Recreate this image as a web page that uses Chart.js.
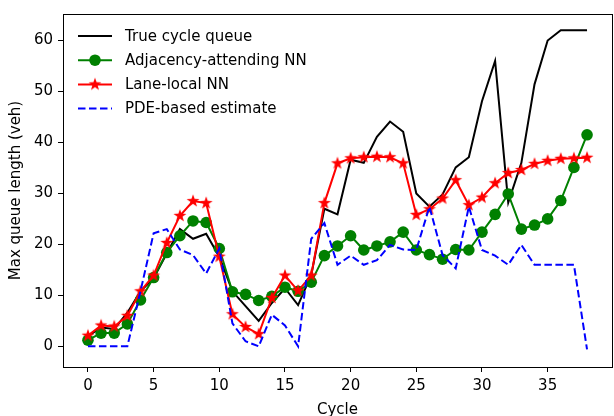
<!DOCTYPE html>
<html>
<head>
<meta charset="utf-8">
<script src="https://cdn.jsdelivr.net/npm/chart.js@4.4.0/dist/chart.umd.min.js"></script>
<style>
  html, body { margin: 0; padding: 0; background: #fff; overflow: hidden; }
  #wrap { width: 620px; height: 416px; }
</style>
</head>
<body>
<div id="wrap"><canvas id="queueChart" width="620" height="416"></canvas></div>
<script>
const cycles = [0, 1, 2, 3, 4, 5, 6, 7, 8, 9, 10, 11, 12, 13, 14, 15, 16, 17, 18, 19,
    20, 21, 22, 23, 24, 25, 26, 27, 28, 29, 30, 31, 32, 33, 34, 35, 36, 37, 38];

const trueQueue = [2, 3.7, 3.4, 6.6, 10.8, 13.4, 18.2, 23, 21.1, 22.1,
    17.6, 10.8, 7.9, 5.0, 8.5, 11.4, 8.1, 14.0, 27.0, 25.9,
    36.6, 36.0, 41.1, 44.1, 42.1, 30.0, 27.4, 29.8, 35.1, 37.1,
    48.1, 56.0, 28.2, 36.0, 51.4, 60.0, 62, 62, 62];

const adjacencyNN = [1.2, 2.6, 2.6, 4.4, 9.1, 13.5, 18.4, 21.7, 24.6, 24.3,
    19.2, 10.7, 10.2, 9.0, 9.8, 11.6, 10.8, 12.6, 17.8, 19.7,
    21.7, 18.9, 19.7, 20.5, 22.4, 18.9, 18.0, 17.1, 19.0, 18.9,
    22.4, 25.9, 29.9, 23.0, 23.8, 25.0, 28.6, 35.1, 41.5];

const laneLocalNN = [2.1, 4.1, 3.9, 6.0, 10.8, 13.9, 20.3, 25.6, 28.5, 28.1,
    17.6, 6.3, 3.8, 2.4, 9.5, 13.9, 10.9, 13.9, 28.1, 35.9,
    36.9, 37.1, 37.2, 37.1, 35.9, 25.8, 26.9, 29.0, 32.6, 27.7,
    29.2, 32.0, 34.0, 34.6, 35.8, 36.4, 36.8, 36.9, 37.0];

const pdeEstimate = [0, 0, 0, 0, 10.8, 22.2, 23.0, 19.0, 17.9, 14.3,
    19.2, 4.5, 1.0, 0, 6.2, 4.1, 0, 21.1, 24.2, 16.0,
    17.8, 16.0, 16.9, 19.9, 19.0, 18.9, 27.4, 17.9, 15.3, 27.4,
    18.9, 17.8, 16.0, 19.9, 16.0, 16, 16, 16, -0.6];

const xTicks = [0, 5, 10, 15, 20, 25, 30, 35];
const yTicks = [0, 10, 20, 30, 40, 50, 60];

const FONT = '"DejaVu Sans", sans-serif';

const toPoints = (values) => values.map((v, i) => ({ x: cycles[i], y: v }));

// filled five-point star like matplotlib's '*' marker
const makeStar = (r, color) => {
    const c = document.createElement('canvas');
    const s = Math.ceil(r * 2) + 2;
    c.width = s;
    c.height = s;
    const g = c.getContext('2d');
    g.fillStyle = color;
    g.beginPath();
    for (let k = 0; k < 10; k++) {
        const rad = k % 2 ? r * 0.4 : r;
        const ang = -Math.PI / 2 + k * Math.PI / 5;
        g.lineTo(s / 2 + rad * Math.cos(ang), s / 2 + rad * Math.sin(ang));
    }
    g.closePath();
    g.fill();
    return c;
};
const starImg = makeStar(6.8, '#ff0000');

const framePlugin = {
    id: 'frame',
    afterDatasetsDraw(chart) {
        const { ctx, chartArea: a } = chart;
        ctx.save();
        ctx.strokeStyle = '#000';
        ctx.lineWidth = 1;
        ctx.strokeRect(a.left + 0.5, a.top + 0.5, a.right - a.left, a.bottom - a.top);
        ctx.restore();
    },
};

const legendPlugin = {
    id: 'insideLegend',
    afterDraw(chart) {
        const { ctx, chartArea: a } = chart;
        ctx.save();
        ctx.font = '15px ' + FONT;
        ctx.textBaseline = 'middle';
        chart.data.datasets.forEach((ds, i) => {
            const y = a.top + 22 + i * 24.2;
            const x0 = a.left + 15;
            const x1 = x0 + 34;
            ctx.strokeStyle = ds.borderColor;
            ctx.lineWidth = ds.borderWidth;
            ctx.setLineDash(ds.borderDash || []);
            ctx.beginPath();
            ctx.moveTo(x0, y);
            ctx.lineTo(x1, y);
            ctx.stroke();
            ctx.setLineDash([]);
            const cx = (x0 + x1) / 2;
            if (ds.pointStyle === 'circle' && ds.pointRadius > 0) {
                ctx.fillStyle = ds.pointBackgroundColor;
                ctx.beginPath();
                ctx.arc(cx, y, ds.pointRadius, 0, Math.PI * 2);
                ctx.fill();
            } else if (ds.pointStyle === starImg) {
                ctx.drawImage(starImg, cx - starImg.width / 2, y - starImg.height / 2);
            }
            ctx.fillStyle = '#000';
            ctx.fillText(ds.label, x1 + 13, y + 1);
        });
        ctx.restore();
    },
};

const axisStyle = {
    grid: { drawOnChartArea: false, color: '#000', tickLength: 5, tickWidth: 1 },
    border: { display: true, color: '#000', width: 1 },
};

new Chart(document.getElementById('queueChart'), {
    type: 'line',
    data: {
        datasets: [
            {
                label: 'True cycle queue',
                data: toPoints(trueQueue),
                borderColor: '#000000',
                borderWidth: 2,
                pointRadius: 0,
                pointStyle: false,
                order: 4,
            },
            {
                label: 'Adjacency-attending NN',
                data: toPoints(adjacencyNN),
                borderColor: '#008000',
                borderWidth: 2,
                pointStyle: 'circle',
                pointRadius: 5.8,
                pointBorderWidth: 0,
                pointBackgroundColor: '#008000',
                order: 3,
            },
            {
                label: 'Lane-local NN',
                data: toPoints(laneLocalNN),
                borderColor: '#ff0000',
                borderWidth: 2,
                pointStyle: starImg,
                pointRadius: 6,
                order: 2,
            },
            {
                label: 'PDE-based estimate',
                data: toPoints(pdeEstimate),
                borderColor: '#0000ff',
                borderWidth: 2,
                borderDash: [7.5, 3.5],
                pointRadius: 0,
                pointStyle: false,
                order: 1,
            },
        ],
    },
    options: {
        responsive: false,
        animation: false,
        events: [],
        layout: { padding: { top: 8, right: 2, left: 0, bottom: 0 } },
        elements: { line: { tension: 0 } },
        plugins: {
            legend: { display: false },
            tooltip: { enabled: false },
        },
        scales: {
            x: {
                type: 'linear',
                min: -1.9,
                max: 39.9,
                afterBuildTicks: (scale) => { scale.ticks = xTicks.map((v) => ({ value: v })); },
                afterFit: (scale) => { scale.height = 49; },
                ...axisStyle,
                ticks: { color: '#000', font: { family: FONT, size: 15 }, padding: 5, maxRotation: 0 },
                title: {
                    display: true,
                    text: 'Cycle',
                    color: '#000',
                    font: { family: FONT, size: 15 },
                    padding: { top: 0, bottom: -3 },
                },
            },
            y: {
                type: 'linear',
                min: -4.05,
                max: 65.2,
                afterBuildTicks: (scale) => { scale.ticks = yTicks.map((v) => ({ value: v })); },
                afterFit: (scale) => { scale.width = 63; },
                ...axisStyle,
                ticks: { color: '#000', font: { family: FONT, size: 15 }, padding: 5 },
                title: {
                    display: true,
                    text: 'Max queue length (veh)',
                    color: '#000',
                    font: { family: FONT, size: 15 },
                    padding: { top: 7, bottom: 0 },
                },
            },
        },
    },
    plugins: [framePlugin, legendPlugin],
});
</script>
</body>
</html>
